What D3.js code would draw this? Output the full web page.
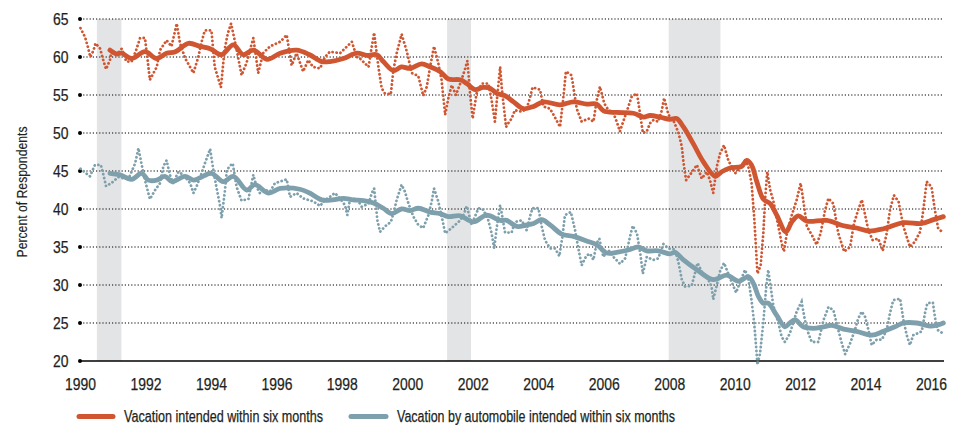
<!DOCTYPE html>
<html><head><meta charset="utf-8">
<script src="https://cdn.jsdelivr.net/npm/d3@7"></script>
<style>
html,body{margin:0;padding:0;background:#fff;}
text{font-family:"Liberation Sans",Arial,sans-serif;fill:#231f20;stroke:#231f20;stroke-width:0.25;}
</style></head>
<body><svg id="c" width="962" height="425"></svg>
<script>
const yTicks = [20,25,30,35,40,45,50,55,60,65];
const xTicks = [1990,1992,1994,1996,1998,2000,2002,2004,2006,2008,2010,2012,2014,2016];
const recessions = [[1990.5,1991.25],[2001.2,2001.93],[2007.97,2009.55]];
const seriesNames = ["Vacation intended within six months","Vacation by automobile intended within six months"];
const yTitle = "Percent of Respondents";

const vacationRaw = [
[1990.00,63.8],[1990.14,62.6],[1990.22,61.4],[1990.30,60.0],[1990.40,60.9],[1990.46,61.8],[1990.60,61.1],[1990.68,59.8],[1990.78,58.4],[1990.90,59.6],[1990.95,60.9],
[1991.10,60.3],[1991.26,61.1],[1991.40,59.4],[1991.56,59.4],[1991.70,60.9],[1991.82,62.5],[1991.97,62.5],
[1992.12,57.0],[1992.33,58.7],[1992.43,60.9],[1992.63,62.2],[1992.78,61.4],[1992.94,64.4],
[1993.04,61.8],[1993.20,59.8],[1993.45,57.9],[1993.60,60.0],[1993.70,62.0],[1993.80,63.5],[1994.00,63.5],
[1994.10,58.7],[1994.29,56.0],[1994.40,60.9],[1994.50,63.1],[1994.60,64.4],[1994.75,61.4],[1994.92,57.6],
[1995.07,59.2],[1995.28,62.5],[1995.43,57.9],[1995.58,60.5],[1995.79,61.4],[1996.10,62.0],[1996.30,62.9],
[1996.45,58.9],[1996.60,60.5],[1996.80,58.1],[1996.96,59.6],[1997.10,58.7],[1997.32,58.5],[1997.47,60.0],
[1997.62,60.7],[1997.93,60.5],[1998.29,62.0],[1998.44,60.0],[1998.54,59.8],[1998.80,58.7],[1998.88,60.9],
[1998.97,63.2],[1999.10,58.7],[1999.20,55.9],[1999.30,55.2],[1999.48,55.1],[1999.56,58.3],[1999.66,60.5],
[1999.81,63.0],[1999.97,60.7],[2000.12,57.9],[2000.32,57.5],[2000.47,54.9],[2000.58,56.1],[2000.68,58.7],
[2000.80,61.4],[2000.93,59.2],[2001.03,57.0],[2001.14,52.4],[2001.24,54.6],[2001.34,56.3],[2001.47,55.0],
[2001.60,56.5],[2001.74,58.3],[2001.82,59.5],[2001.90,55.2],[2001.98,51.9],[2002.10,55.2],[2002.26,56.5],
[2002.46,56.5],[2002.56,54.3],[2002.66,51.5],[2002.72,54.3],[2002.82,58.7],[2002.87,55.9],[2003.00,50.8],
[2003.07,51.3],[2003.17,51.9],[2003.27,53.0],[2003.48,52.8],[2003.63,53.2],[2003.73,54.6],[2003.81,56.0],
[2004.04,55.7],[2004.14,53.5],[2004.34,53.2],[2004.45,52.4],[2004.65,50.8],[2004.75,54.6],[2004.83,58.1],
[2005.00,57.6],[2005.16,53.2],[2005.31,51.5],[2005.52,51.9],[2005.67,51.5],[2005.77,54.3],[2005.87,56.1],
[2006.00,53.9],[2006.13,53.0],[2006.28,52.6],[2006.38,51.5],[2006.48,50.2],[2006.58,51.5],[2006.74,53.5],
[2006.84,54.8],[2007.00,55.2],[2007.10,52.4],[2007.18,50.0],[2007.30,50.2],[2007.40,51.3],[2007.50,51.7],
[2007.65,51.5],[2007.76,53.0],[2007.83,54.6],[2007.96,52.4],[2008.11,51.7],[2008.27,50.0],[2008.37,48.2],
[2008.42,46.2],[2008.50,43.8],[2008.62,44.5],[2008.83,45.8],[2008.98,44.0],[2009.13,44.9],[2009.23,43.8],
[2009.33,42.1],[2009.44,45.6],[2009.54,47.3],[2009.66,48.4],[2009.79,46.4],[2010.00,44.7],[2010.15,45.4],
[2010.30,46.4],[2010.40,45.6],[2010.50,43.4],[2010.58,39.0],[2010.64,34.6],[2010.68,31.5],[2010.78,32.6],
[2010.86,36.8],[2010.92,41.6],[2010.98,44.9],[2011.07,42.5],[2011.17,41.0],[2011.32,37.7],[2011.42,35.5],
[2011.49,34.4],[2011.58,36.8],[2011.73,39.2],[2011.88,41.2],[2012.00,43.4],[2012.08,41.2],[2012.19,37.7],
[2012.34,36.6],[2012.49,35.3],[2012.61,36.8],[2012.75,39.9],[2012.85,41.4],[2013.00,40.7],[2013.15,36.8],
[2013.33,34.4],[2013.51,35.0],[2013.63,38.1],[2013.76,39.9],[2013.87,41.2],[2013.97,39.2],[2014.07,37.2],
[2014.20,35.9],[2014.37,36.1],[2014.51,34.5],[2014.63,36.8],[2014.73,39.9],[2014.85,41.8],[2014.99,41.0],
[2015.14,37.7],[2015.34,35.0],[2015.49,35.7],[2015.65,37.0],[2015.75,39.9],[2015.85,43.6],[2016.00,42.9],
[2016.10,39.9],[2016.20,37.5],[2016.36,36.8]
];

const vacationSmooth = [
[1990.90,60.9],[1991.10,60.4],[1991.26,60.5],[1991.56,59.8],[1991.97,60.7],[1992.33,59.8],[1992.63,60.5],
[1992.90,60.7],[1993.30,61.8],[1993.65,61.4],[1993.96,61.1],[1994.30,60.3],[1994.67,61.6],[1994.97,60.3],
[1995.28,60.9],[1995.70,59.7],[1996.10,60.5],[1996.60,60.9],[1997.00,60.3],[1997.37,59.4],[1997.62,59.4],
[1998.03,59.8],[1998.44,60.5],[1998.75,60.2],[1999.05,60.3],[1999.25,59.4],[1999.56,58.2],[1999.80,58.7],
[2000.07,58.5],[2000.42,59.1],[2000.68,58.7],[2000.98,58.1],[2001.24,57.1],[2001.60,57.0],[2001.80,56.5],
[2002.05,55.7],[2002.30,56.0],[2002.51,55.9],[2002.72,55.2],[2002.97,54.9],[2003.23,54.1],[2003.53,53.2],
[2003.84,53.5],[2004.14,54.1],[2004.65,53.7],[2005.06,54.1],[2005.46,53.8],[2005.77,53.8],[2005.98,52.9],
[2006.38,52.7],[2006.89,52.6],[2007.20,52.1],[2007.40,52.3],[2007.70,52.1],[2008.01,51.8],[2008.21,51.9],
[2008.42,50.8],[2008.72,48.6],[2009.03,46.2],[2009.39,44.3],[2009.59,44.9],[2009.84,45.4],[2010.20,45.6],
[2010.35,46.4],[2010.50,45.8],[2010.66,43.6],[2010.86,41.3],[2011.07,40.7],[2011.27,39.2],[2011.55,37.0],
[2011.73,38.3],[2011.93,39.1],[2012.19,38.4],[2012.80,38.5],[2013.31,37.8],[2013.71,37.5],[2014.07,37.1],
[2014.53,37.4],[2015.14,38.2],[2015.70,38.1],[2016.06,38.6],[2016.36,39.0]
];

const autoRaw = [
[1990.00,45.3],[1990.14,44.8],[1990.29,44.3],[1990.44,45.8],[1990.62,45.8],[1990.70,44.5],[1990.78,43.0],
[1990.90,43.3],[1991.00,43.6],[1991.15,44.2],[1991.35,44.0],[1991.50,44.3],[1991.67,46.0],[1991.77,48.0],
[1991.87,45.8],[1991.97,43.8],[1992.12,41.3],[1992.28,42.5],[1992.43,43.4],[1992.53,45.6],[1992.63,46.4],
[1992.73,44.5],[1992.83,43.4],[1992.99,44.9],[1993.14,44.5],[1993.35,43.4],[1993.45,42.1],[1993.55,43.0],
[1993.70,44.7],[1993.80,46.0],[1993.96,47.9],[1994.06,45.1],[1994.16,42.7],[1994.26,40.5],[1994.31,38.8],
[1994.41,42.3],[1994.47,45.1],[1994.57,45.7],[1994.65,46.0],[1994.77,42.9],[1994.92,41.1],[1995.13,41.3],
[1995.28,44.5],[1995.38,42.9],[1995.48,42.1],[1995.64,42.5],[1995.79,42.3],[1995.94,43.4],[1996.30,43.9],
[1996.40,41.6],[1996.60,42.1],[1996.80,41.4],[1997.11,41.0],[1997.32,40.4],[1997.47,41.2],[1997.62,41.6],
[1997.77,42.1],[1997.93,41.4],[1998.08,40.5],[1998.15,39.2],[1998.23,41.2],[1998.44,41.4],[1998.59,40.3],
[1998.80,40.7],[1998.90,42.1],[1998.97,42.7],[1999.07,38.5],[1999.15,37.0],[1999.30,37.7],[1999.48,38.3],
[1999.56,39.4],[1999.66,41.2],[1999.81,43.2],[1999.91,42.3],[2000.02,40.7],[2000.17,39.0],[2000.32,37.9],
[2000.47,37.5],[2000.63,39.2],[2000.73,41.0],[2000.80,42.7],[2000.93,41.0],[2001.07,38.3],[2001.14,36.8],
[2001.34,37.5],[2001.60,38.5],[2001.72,39.4],[2001.80,40.4],[2001.95,37.9],[2002.05,39.0],[2002.16,40.1],
[2002.31,39.9],[2002.46,38.5],[2002.56,36.8],[2002.64,34.8],[2002.72,37.7],[2002.82,40.5],[2002.87,39.4],
[2002.97,36.9],[2003.17,36.9],[2003.27,38.3],[2003.48,38.5],[2003.63,37.2],[2003.73,39.0],[2003.81,40.1],
[2003.99,40.1],[2004.09,37.7],[2004.19,35.9],[2004.35,34.8],[2004.50,34.8],[2004.63,33.8],[2004.73,36.6],
[2004.80,39.2],[2004.98,39.6],[2005.11,37.2],[2005.21,34.8],[2005.31,32.6],[2005.46,33.9],[2005.57,34.1],
[2005.67,33.3],[2005.77,35.5],[2005.85,36.1],[2005.97,33.7],[2006.13,34.6],[2006.28,33.7],[2006.48,32.8],
[2006.64,33.5],[2006.79,36.4],[2006.87,37.8],[2007.00,36.8],[2007.10,34.2],[2007.18,31.5],[2007.30,33.7],
[2007.50,33.3],[2007.65,33.5],[2007.81,35.4],[2007.96,34.8],[2008.16,34.7],[2008.27,32.9],[2008.37,30.7],
[2008.47,29.8],[2008.67,29.9],[2008.77,31.5],[2008.85,32.9],[2009.03,31.3],[2009.18,30.7],[2009.28,29.8],
[2009.33,28.1],[2009.44,30.0],[2009.54,31.8],[2009.66,32.9],[2009.79,31.5],[2009.95,29.8],[2010.03,29.0],
[2010.15,30.4],[2010.30,32.0],[2010.40,30.9],[2010.50,28.0],[2010.58,25.0],[2010.64,21.9],[2010.68,19.5],
[2010.76,21.0],[2010.86,25.0],[2010.94,29.3],[2011.01,32.0],[2011.09,29.6],[2011.17,27.2],[2011.32,25.0],
[2011.42,23.2],[2011.52,22.5],[2011.67,23.6],[2011.88,26.5],[2012.03,27.8],[2012.13,25.4],[2012.24,23.6],
[2012.34,22.5],[2012.54,22.5],[2012.70,25.4],[2012.85,27.1],[2013.00,26.7],[2013.15,24.1],[2013.26,22.3],
[2013.36,20.9],[2013.51,22.3],[2013.66,24.1],[2013.76,25.6],[2013.87,26.5],[2013.97,25.8],[2014.07,24.1],
[2014.17,22.1],[2014.32,22.8],[2014.48,22.8],[2014.63,24.1],[2014.73,26.3],[2014.83,28.0],[2015.04,28.2],
[2015.14,25.4],[2015.24,23.4],[2015.34,22.1],[2015.44,23.4],[2015.55,23.6],[2015.70,23.9],[2015.80,26.3],
[2015.87,27.6],[2016.04,27.7],[2016.11,25.6],[2016.18,24.1],[2016.36,23.6]
];

const autoSmooth = [
[1990.90,44.7],[1991.20,44.5],[1991.56,43.9],[1991.87,44.7],[1992.07,43.8],[1992.33,43.8],[1992.58,44.3],
[1992.80,43.6],[1993.19,44.3],[1993.45,43.8],[1993.65,44.1],[1994.00,44.7],[1994.36,43.6],[1994.67,44.3],
[1995.08,42.5],[1995.33,43.2],[1995.74,42.1],[1996.10,42.7],[1996.70,42.6],[1997.00,42.1],[1997.37,41.2],
[1997.70,41.2],[1998.03,41.4],[1998.33,41.2],[1998.64,41.1],[1998.95,40.8],[1999.25,40.1],[1999.51,39.4],
[1999.81,40.0],[2000.07,39.8],[2000.32,40.1],[2000.68,39.6],[2000.98,39.4],[2001.24,39.0],[2001.60,39.1],
[2002.00,38.3],[2002.41,39.2],[2002.82,38.5],[2003.02,38.5],[2003.33,37.7],[2003.63,37.9],[2003.84,38.1],
[2004.09,38.6],[2004.35,37.9],[2004.70,36.7],[2005.06,36.4],[2005.46,35.8],[2005.77,35.3],[2006.08,34.2],
[2006.38,34.3],[2006.74,34.6],[2007.04,35.0],[2007.30,34.5],[2007.65,34.5],[2008.01,34.1],[2008.16,34.3],
[2008.42,33.3],[2008.83,32.0],[2009.33,30.7],[2009.74,31.3],[2010.10,30.5],[2010.40,31.1],[2010.56,30.2],
[2010.71,28.5],[2010.86,27.6],[2011.01,27.6],[2011.27,26.0],[2011.52,24.5],[2011.67,25.0],[2011.83,25.4],
[2012.08,24.5],[2012.39,24.3],[2012.70,24.5],[2012.95,24.7],[2013.31,24.2],[2013.71,23.9],[2014.17,23.4],
[2014.53,23.9],[2014.88,24.5],[2015.14,25.0],[2015.55,25.0],[2015.95,24.6],[2016.16,24.7],[2016.36,25.0]
];

const RED = "#cf5631", BLUE = "#7ea0ad";
const svg = d3.select("#c");
const x = d3.scaleLinear().domain([1990, 2016.38]).range([80.5, 944]);
const y = d3.scaleLinear().domain([20, 65]).range([361, 19]);

// recession shading
svg.append("g").selectAll("rect").data(recessions).join("rect")
  .attr("x", d => x(d[0])).attr("width", d => x(d[1]) - x(d[0]))
  .attr("y", y(65)).attr("height", y(20) - y(65)).attr("fill", "#e3e4e6");

// gridlines
const g = svg.append("g");
g.selectAll("line.grid").data(yTicks.filter(t => t > 20)).join("line")
  .attr("class","grid").attr("x1", 80).attr("x2", 944)
  .attr("y1", d => y(d)).attr("y2", d => y(d))
  .attr("stroke", "#000").attr("stroke-width", 1).attr("stroke-dasharray", "1.2,2");
g.append("line").attr("x1", 80).attr("x2", 944).attr("y1", y(20)).attr("y2", y(20))
  .attr("stroke", "#000").attr("stroke-width", 1.6);
g.selectAll("circle").data(yTicks).join("circle")
  .attr("cx", 80).attr("cy", d => y(d)).attr("r", 2).attr("fill", "#000");

// y labels (condensed look via textLength)
svg.append("g").selectAll("text").data(yTicks).join("text")
  .attr("x", 68.5).attr("y", d => y(d) + 6).attr("text-anchor", "end")
  .attr("font-size", 17).attr("textLength", 15.5).attr("lengthAdjust", "spacingAndGlyphs")
  .text(d => d);
// x labels
svg.append("g").selectAll("text").data(xTicks).join("text")
  .attr("x", d => x(d)).attr("y", 389.5).attr("text-anchor", "middle")
  .attr("font-size", 17).attr("textLength", 31).attr("lengthAdjust", "spacingAndGlyphs")
  .text(d => d);
// y title
svg.append("text").attr("transform", "translate(27,192) rotate(-90)")
  .attr("text-anchor", "middle").attr("font-size", 15).style("stroke-width", 0.15)
  .attr("textLength", 131).attr("lengthAdjust", "spacingAndGlyphs").text(yTitle);

const lineRaw = d3.line().x(d => x(d[0])).y(d => y(d[1]));
const lineSmooth = d3.line().x(d => x(d[0])).y(d => y(d[1])).curve(d3.curveCatmullRom.alpha(0.5));

function rawPath(data, color) {
  svg.append("path").datum(data).attr("d", lineRaw).attr("fill", "none")
    .attr("stroke", color).attr("stroke-width", 2.8).attr("stroke-linecap", "round")
    .attr("stroke-dasharray", "0.1,3.9");
}
function smoothPath(data, color) {
  svg.append("path").datum(data).attr("d", lineSmooth).attr("fill", "none")
    .attr("stroke", color).attr("stroke-width", 4.8).attr("stroke-linecap", "round")
    .attr("stroke-linejoin", "round");
}
rawPath(autoRaw, BLUE);
rawPath(vacationRaw, RED);
smoothPath(autoSmooth, BLUE);
smoothPath(vacationSmooth, RED);

// legend
const legend = [
  {name: seriesNames[0], color: RED, x0: 79, x1: 113, tx: 124, w: 199},
  {name: seriesNames[1], color: BLUE, x0: 351, x1: 386, tx: 397, w: 278}
];
const lg = svg.append("g").selectAll("g").data(legend).join("g");
lg.append("line").attr("x1", d => d.x0).attr("x2", d => d.x1).attr("y1", 416.5).attr("y2", 416.5)
  .attr("stroke", d => d.color).attr("stroke-width", 5).attr("stroke-linecap", "round");
lg.append("text").attr("x", d => d.tx).attr("y", 421.5).attr("font-size", 16)
  .attr("textLength", d => d.w).attr("lengthAdjust", "spacingAndGlyphs").text(d => d.name);
</script></body></html>
